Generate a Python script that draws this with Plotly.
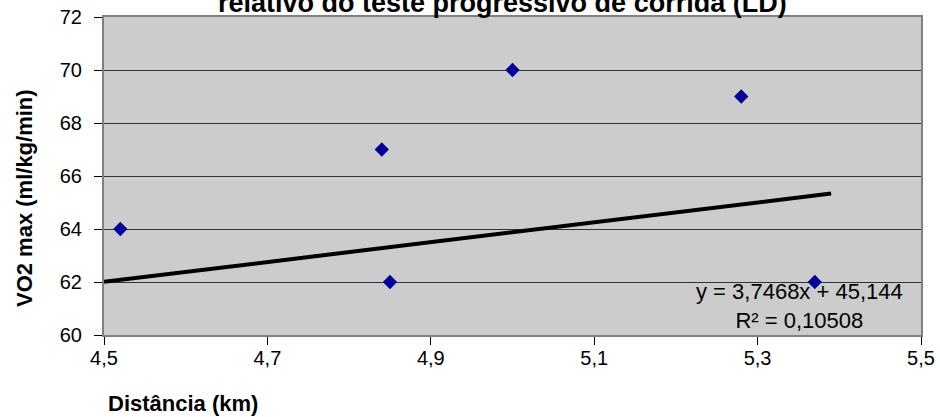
import numpy as np
import plotly.graph_objects as go

# distance run (km) vs VO2 max (ml/kg/min)
distancia = [4.52, 4.84, 4.85, 5.00, 5.28, 5.37]
vo2_max = [64, 67, 62, 70, 69, 62]

# linear trendline as reported on the chart
slope = 3.7468
intercept = 45.144
r2 = 0.10508
trend_x_range = [4.5, 5.39]

x_ticks = [4.5, 4.7, 4.9, 5.1, 5.3, 5.5]
y_ticks = [60, 62, 64, 66, 68, 70, 72]

FONT = "Liberation Sans, Arial, sans-serif"

trend_x = np.array(trend_x_range)
trend_y = slope * trend_x + intercept

fig = go.Figure()
fig.add_trace(go.Scatter(
    x=trend_x, y=trend_y, mode='lines',
    line=dict(color='black', width=4),
    hoverinfo='skip', showlegend=False
))
fig.add_trace(go.Scatter(
    x=distancia, y=vo2_max, mode='markers',
    marker=dict(symbol='diamond', size=11, color='#000099'),
    showlegend=False
))

eq_text = ("y = " + f"{slope:.4f}".replace('.', ',') + "x + "
           + f"{intercept:.3f}".replace('.', ',')
           + "<br>R² = " + f"{r2:.5f}".replace('.', ','))
fig.add_annotation(
    x=0.980, y=0.091, xref='paper', yref='paper',
    xanchor='right', yanchor='middle', align='center',
    text=eq_text, showarrow=False,
    font=dict(family=FONT, size=22, color='black')
)

# title is cut off at the top of the picture, only its last line shows
fig.add_annotation(
    x=0.488, y=1, xref='paper', yref='paper',
    xanchor='center', yanchor='bottom', yshift=-3,
    text="<b>relativo do teste progressivo de corrida (LD)</b>",
    showarrow=False, font=dict(family=FONT, size=27, color='black')
)

fig.add_annotation(
    x=-0.097, y=0.43, xref='paper', yref='paper',
    xanchor='center', yanchor='middle', textangle=-90,
    text="<b>VO2 max (ml/kg/min)</b>", showarrow=False,
    font=dict(family=FONT, size=22, color='black')
)

fig.add_annotation(
    x=0.097, y=-0.214, xref='paper', yref='paper',
    xanchor='center', yanchor='middle',
    text="<b>Distância (km)</b>", showarrow=False,
    font=dict(family=FONT, size=22, color='black')
)

fig.update_layout(
    width=940, height=417,
    margin=dict(l=104, r=19, t=17, b=82, autoexpand=False),
    plot_bgcolor='#CCCCCC', paper_bgcolor='white',
    separators=', ',
    font=dict(family=FONT, size=20, color='black'),
    xaxis=dict(
        range=[4.5, 5.5], tickvals=x_ticks, tickformat='.1f',
        showgrid=False, zeroline=False, automargin=False,
        showline=True, linecolor='#808080', linewidth=2, mirror=True,
        ticks='outside', ticklen=8, tickcolor='black', tickwidth=1,
        ticklabelstandoff=-4,
    ),
    yaxis=dict(
        range=[60, 72], tickvals=y_ticks,
        showgrid=True, gridcolor='#333333', gridwidth=1, zeroline=False,
        automargin=False,
        showline=True, linecolor='#808080', linewidth=2, mirror=True,
        ticks='outside', ticklen=8, tickcolor='black', tickwidth=1,
        ticklabelstandoff=8,
    ),
)

# page body has a default 8px margin, remove it so the figure fills the window
fig.write_html("out.html", config={'displayModeBar': False},
               post_script="document.body.style.margin='0';")
